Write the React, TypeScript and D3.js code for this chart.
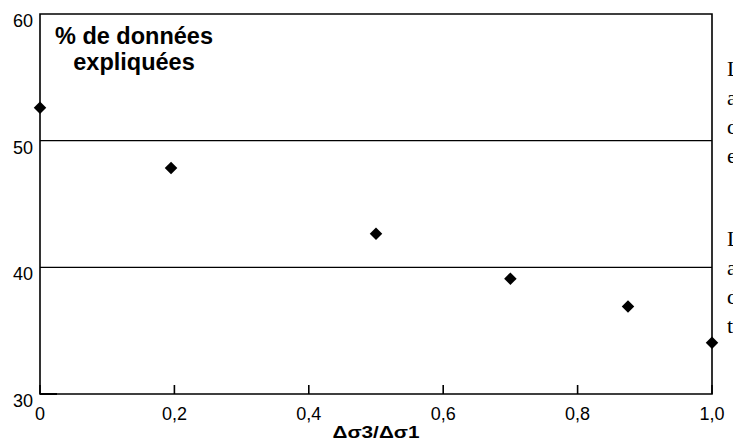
import React, { useEffect, useRef } from "react";
import * as d3 from "d3";

const ratios = [0, 0.195, 0.5, 0.7, 0.875, 1.0];
const explained = [52.6, 47.85, 42.65, 39.1, 36.9, 34.05];
const xTicks = [0, 0.2, 0.4, 0.6, 0.8, 1.0];
const yTicks = [30, 40, 50, 60];
const titleLines = ["% de données", "expliquées"];
const xLabel = "Δσ3/Δσ1";
const sideTextTop = ["Les", "au", "de", "en"];
const sideTextBottom = ["La", "au", "de", "te"];

export default function App() {
  const ref = useRef<SVGSVGElement>(null);
  useEffect(() => {
    const svg = d3.select(ref.current);
    svg.selectAll("*").remove();
    const x = d3.scaleLinear().domain([0, 1]).range([40, 712]);
    const y = d3.scaleLinear().domain([30, 60]).range([394, 14]);
    const sans = "Liberation Sans, Arial, sans-serif";

    // grid lines
    svg.selectAll("line.grid").data([40, 50]).enter().append("line")
      .attr("x1", x(0)).attr("x2", x(1)).attr("y1", d => y(d)).attr("y2", d => y(d))
      .attr("stroke", "#000").attr("stroke-width", 1.4);
    // frame
    svg.append("path")
      .attr("d", `M${x(0)},${y(30)}V${y(60)}H${x(1)}V${y(30)}Z`)
      .attr("fill", "none").attr("stroke", "#000").attr("stroke-width", 1.6);
    // y stub tick at 30
    svg.append("line").attr("x1", x(0)).attr("x2", x(0) + 17).attr("y1", y(30)).attr("y2", y(30))
      .attr("stroke", "#000").attr("stroke-width", 2);
    // x ticks
    svg.selectAll("line.xt").data(xTicks).enter().append("line")
      .attr("x1", d => x(d)).attr("x2", d => x(d)).attr("y1", y(30)).attr("y2", y(30) - 9)
      .attr("stroke", "#000").attr("stroke-width", 1.6);
    svg.selectAll("text.xt").data(xTicks).enter().append("text")
      .attr("x", d => x(d)).attr("y", 420).attr("text-anchor", "middle")
      .attr("font-family", sans).attr("font-size", 18)
      .text(d => d3.format(".1f")(d).replace(".", ",").replace(/^0,0$/, "0"));
    svg.selectAll("text.yt").data(yTicks).enter().append("text")
      .attr("x", 33).attr("y", d => y(d) + 13).attr("text-anchor", "end")
      .attr("font-family", sans).attr("font-size", 18)
      .text(d => String(d));
    // markers
    const diamond = d3.symbol().type(d3.symbolDiamond2).size(100);
    svg.selectAll("path.pt").data(ratios).enter().append("path")
      .attr("d", diamond)
      .attr("transform", (d, i) => `translate(${x(d)},${y(explained[i])})`)
      .attr("fill", "#000");
    // title
    svg.selectAll("text.title").data(titleLines).enter().append("text")
      .attr("x", 134).attr("y", (d, i) => 44 + i * 26).attr("text-anchor", "middle")
      .attr("font-family", sans).attr("font-size", 23.5).attr("font-weight", "bold")
      .text(d => d);
    svg.append("text").attr("x", 376).attr("y", 438).attr("text-anchor", "middle")
      .attr("font-family", sans).attr("font-size", 16).attr("font-weight", "bold")
      .attr("textLength", 87).attr("lengthAdjust", "spacingAndGlyphs")
      .text(xLabel);
    // side text (cropped page text)
    const serif = "Liberation Serif, Times New Roman, serif";
    svg.selectAll("text.s1").data(sideTextTop).enter().append("text")
      .attr("x", 727).attr("y", (d, i) => 76 + i * 29)
      .attr("font-family", serif).attr("font-size", 22).text(d => d);
    svg.selectAll("text.s2").data(sideTextBottom).enter().append("text")
      .attr("x", 727).attr("y", (d, i) => 246 + i * 29)
      .attr("font-family", serif).attr("font-size", 22).text(d => d);
  }, []);
  return (
    <svg ref={ref} width={733} height={448}
      style={{ position: "absolute", left: 0, top: 0, background: "#fff" }} />
  );
}
